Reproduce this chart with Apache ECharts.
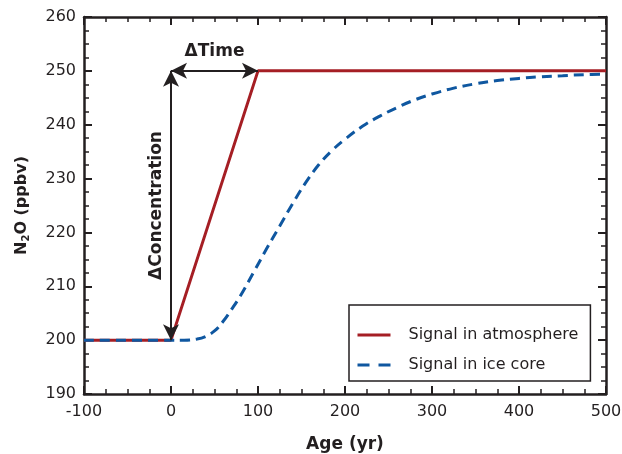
<!DOCTYPE html>
<html>
<head>
<meta charset="utf-8">
<script src="https://cdn.jsdelivr.net/npm/echarts@6/dist/echarts.min.js"></script>
<style>html,body{margin:0;padding:0;background:#fff}#c{width:622px;height:454px}</style>
</head>
<body>
<div id="c"></div>
<script>
// Atmosphere signal (Age yr, N2O ppbv)
const atmosphereX = [-100, 0, 100, 500];
const atmosphereY = [200, 200, 250, 250];
// Ice core signal
const iceX = [-100, 0, 15, 30, 40, 50, 60, 70, 80, 95, 110, 125, 140, 155, 170, 185, 200, 220, 240, 260, 280, 300, 325, 350, 375, 400, 425, 450, 475, 500];
const iceY = [200, 200, 200, 200.2, 200.7, 201.7, 203.5, 205.8, 208.3, 212.6, 217, 221.2, 225.4, 229.3, 232.6, 235.2, 237.3, 239.7, 241.6, 243.2, 244.6, 245.7, 246.8, 247.6, 248.2, 248.6, 248.9, 249.1, 249.3, 249.4];
// Annotation arrows
const timeArrow = [[0, 250], [100, 250]];
const concArrow = [[0, 250], [0, 200]];
const timeLabel = '\u0394Time';
const concLabel = '\u0394Concentration';
const seriesNames = ['Signal in atmosphere', 'Signal in ice core'];

const font = 'DejaVu Sans, sans-serif';
const axisColor = '#231f20';
const red = '#a51e24';
const blue = '#0f57a0';

const commonAxisLine = { show: true, onZero: false, lineStyle: { color: axisColor, width: 2.5 } };
const tick = { show: true, inside: true, length: 8, lineStyle: { color: axisColor, width: 2 } };
const minor = { show: true, splitNumber: 4, length: 5, lineStyle: { color: axisColor, width: 1.5 } };

const chart = echarts.init(document.getElementById('c'));
chart.setOption({
  animation: false,
  grid: { left: 84, right: 16, top: 17, bottom: 60, containLabel: false, outerBoundsMode: 'none' },
  legend: {
    orient: 'vertical', left: 349, top: 305,
    padding: [22, 12, 8, 7],
    itemGap: 14, itemWidth: 33, itemHeight: 16,
    borderColor: '#231f20', borderWidth: 1.5,
    backgroundColor: '#fff',
    itemStyle: { opacity: 0 },
    textStyle: { fontFamily: font, fontSize: 16, color: axisColor, padding: [0, 0, 0, 13] },
    data: [
      { name: seriesNames[0], lineStyle: { width: 3, type: 'solid' } },
      { name: seriesNames[1], lineStyle: { width: 3, type: [12, 9] } }
    ]
  },
  xAxis: [{
    type: 'value', min: -100, max: 500, interval: 100, position: 'bottom',
    name: 'Age (yr)', nameLocation: 'middle', nameGap: 42,
    nameTextStyle: { fontFamily: font, fontSize: 17, fontWeight: 'bold', color: axisColor },
    axisLine: commonAxisLine, axisTick: tick, minorTick: minor,
    splitLine: { show: false }, minorSplitLine: { show: false },
    axisLabel: { fontFamily: font, fontSize: 16, color: axisColor, margin: 10 }
  }, {
    type: 'value', min: -100, max: 500, interval: 100, position: 'top',
    axisLine: commonAxisLine, axisTick: tick, minorTick: minor,
    splitLine: { show: false }, axisLabel: { show: false }
  }],
  yAxis: [{
    type: 'value', min: 190, max: 260, interval: 10, position: 'left',
    name: '{b|N}{s|2}{b|O (ppbv)}', nameLocation: 'middle', nameGap: 52, nameRotate: 90,
    nameTextStyle: {
      rich: {
        b: { fontFamily: font, fontSize: 16, fontWeight: 'bold', color: axisColor, lineHeight: 20 },
        s: { fontFamily: font, fontSize: 10, fontWeight: 'bold', color: axisColor, lineHeight: 20, padding: [9, 0, 0, 0] }
      }
    },
    axisLine: commonAxisLine, axisTick: tick, minorTick: minor,
    splitLine: { show: false }, minorSplitLine: { show: false },
    axisLabel: { fontFamily: font, fontSize: 16, color: axisColor, margin: 8 }
  }, {
    type: 'value', min: 190, max: 260, interval: 10, position: 'right',
    axisLine: commonAxisLine, axisTick: tick, minorTick: minor,
    splitLine: { show: false }, axisLabel: { show: false }
  }],
  series: [{
    name: seriesNames[0], type: 'line', xAxisIndex: 0, yAxisIndex: 0,
    data: atmosphereX.map((x, i) => [x, atmosphereY[i]]),
    symbol: 'none', color: red,
    lineStyle: { color: red, width: 3 },
    z: 3,
    markLine: {
      silent: true, symbol: ['arrow', 'arrow'], symbolSize: [12, 16],
      lineStyle: { color: axisColor, width: 2, type: 'solid' },
      label: { show: true, position: 'middle', fontFamily: font, fontSize: 17, fontWeight: 'bold', color: axisColor },
      data: [
        [{ coord: timeArrow[0], label: { formatter: timeLabel, distance: 11 } }, { coord: timeArrow[1] }],
        [{ coord: concArrow[0], label: { show: false } }, { coord: concArrow[1] }]
      ]
    }
  }, {
    name: seriesNames[1], type: 'line', xAxisIndex: 0, yAxisIndex: 0,
    data: iceX.map((x, i) => [x, iceY[i]]),
    symbol: 'none', smooth: 0.4, color: blue,
    lineStyle: { color: blue, width: 3, type: [10, 6] },
    z: 4
  }]
});

const pTop = chart.convertToPixel({ xAxisIndex: 0, yAxisIndex: 0 }, concArrow[0]);
const pBot = chart.convertToPixel({ xAxisIndex: 0, yAxisIndex: 0 }, concArrow[1]);
chart.setOption({
  graphic: [{
    type: 'text', x: pTop[0] - 14, y: (pTop[1] + pBot[1]) / 2, rotation: Math.PI / 2,
    style: { text: concLabel, fontFamily: font, fontSize: 17, fontWeight: 'bold', fill: axisColor, align: 'center', verticalAlign: 'middle' }
  }]
});
</script>
</body>
</html>
